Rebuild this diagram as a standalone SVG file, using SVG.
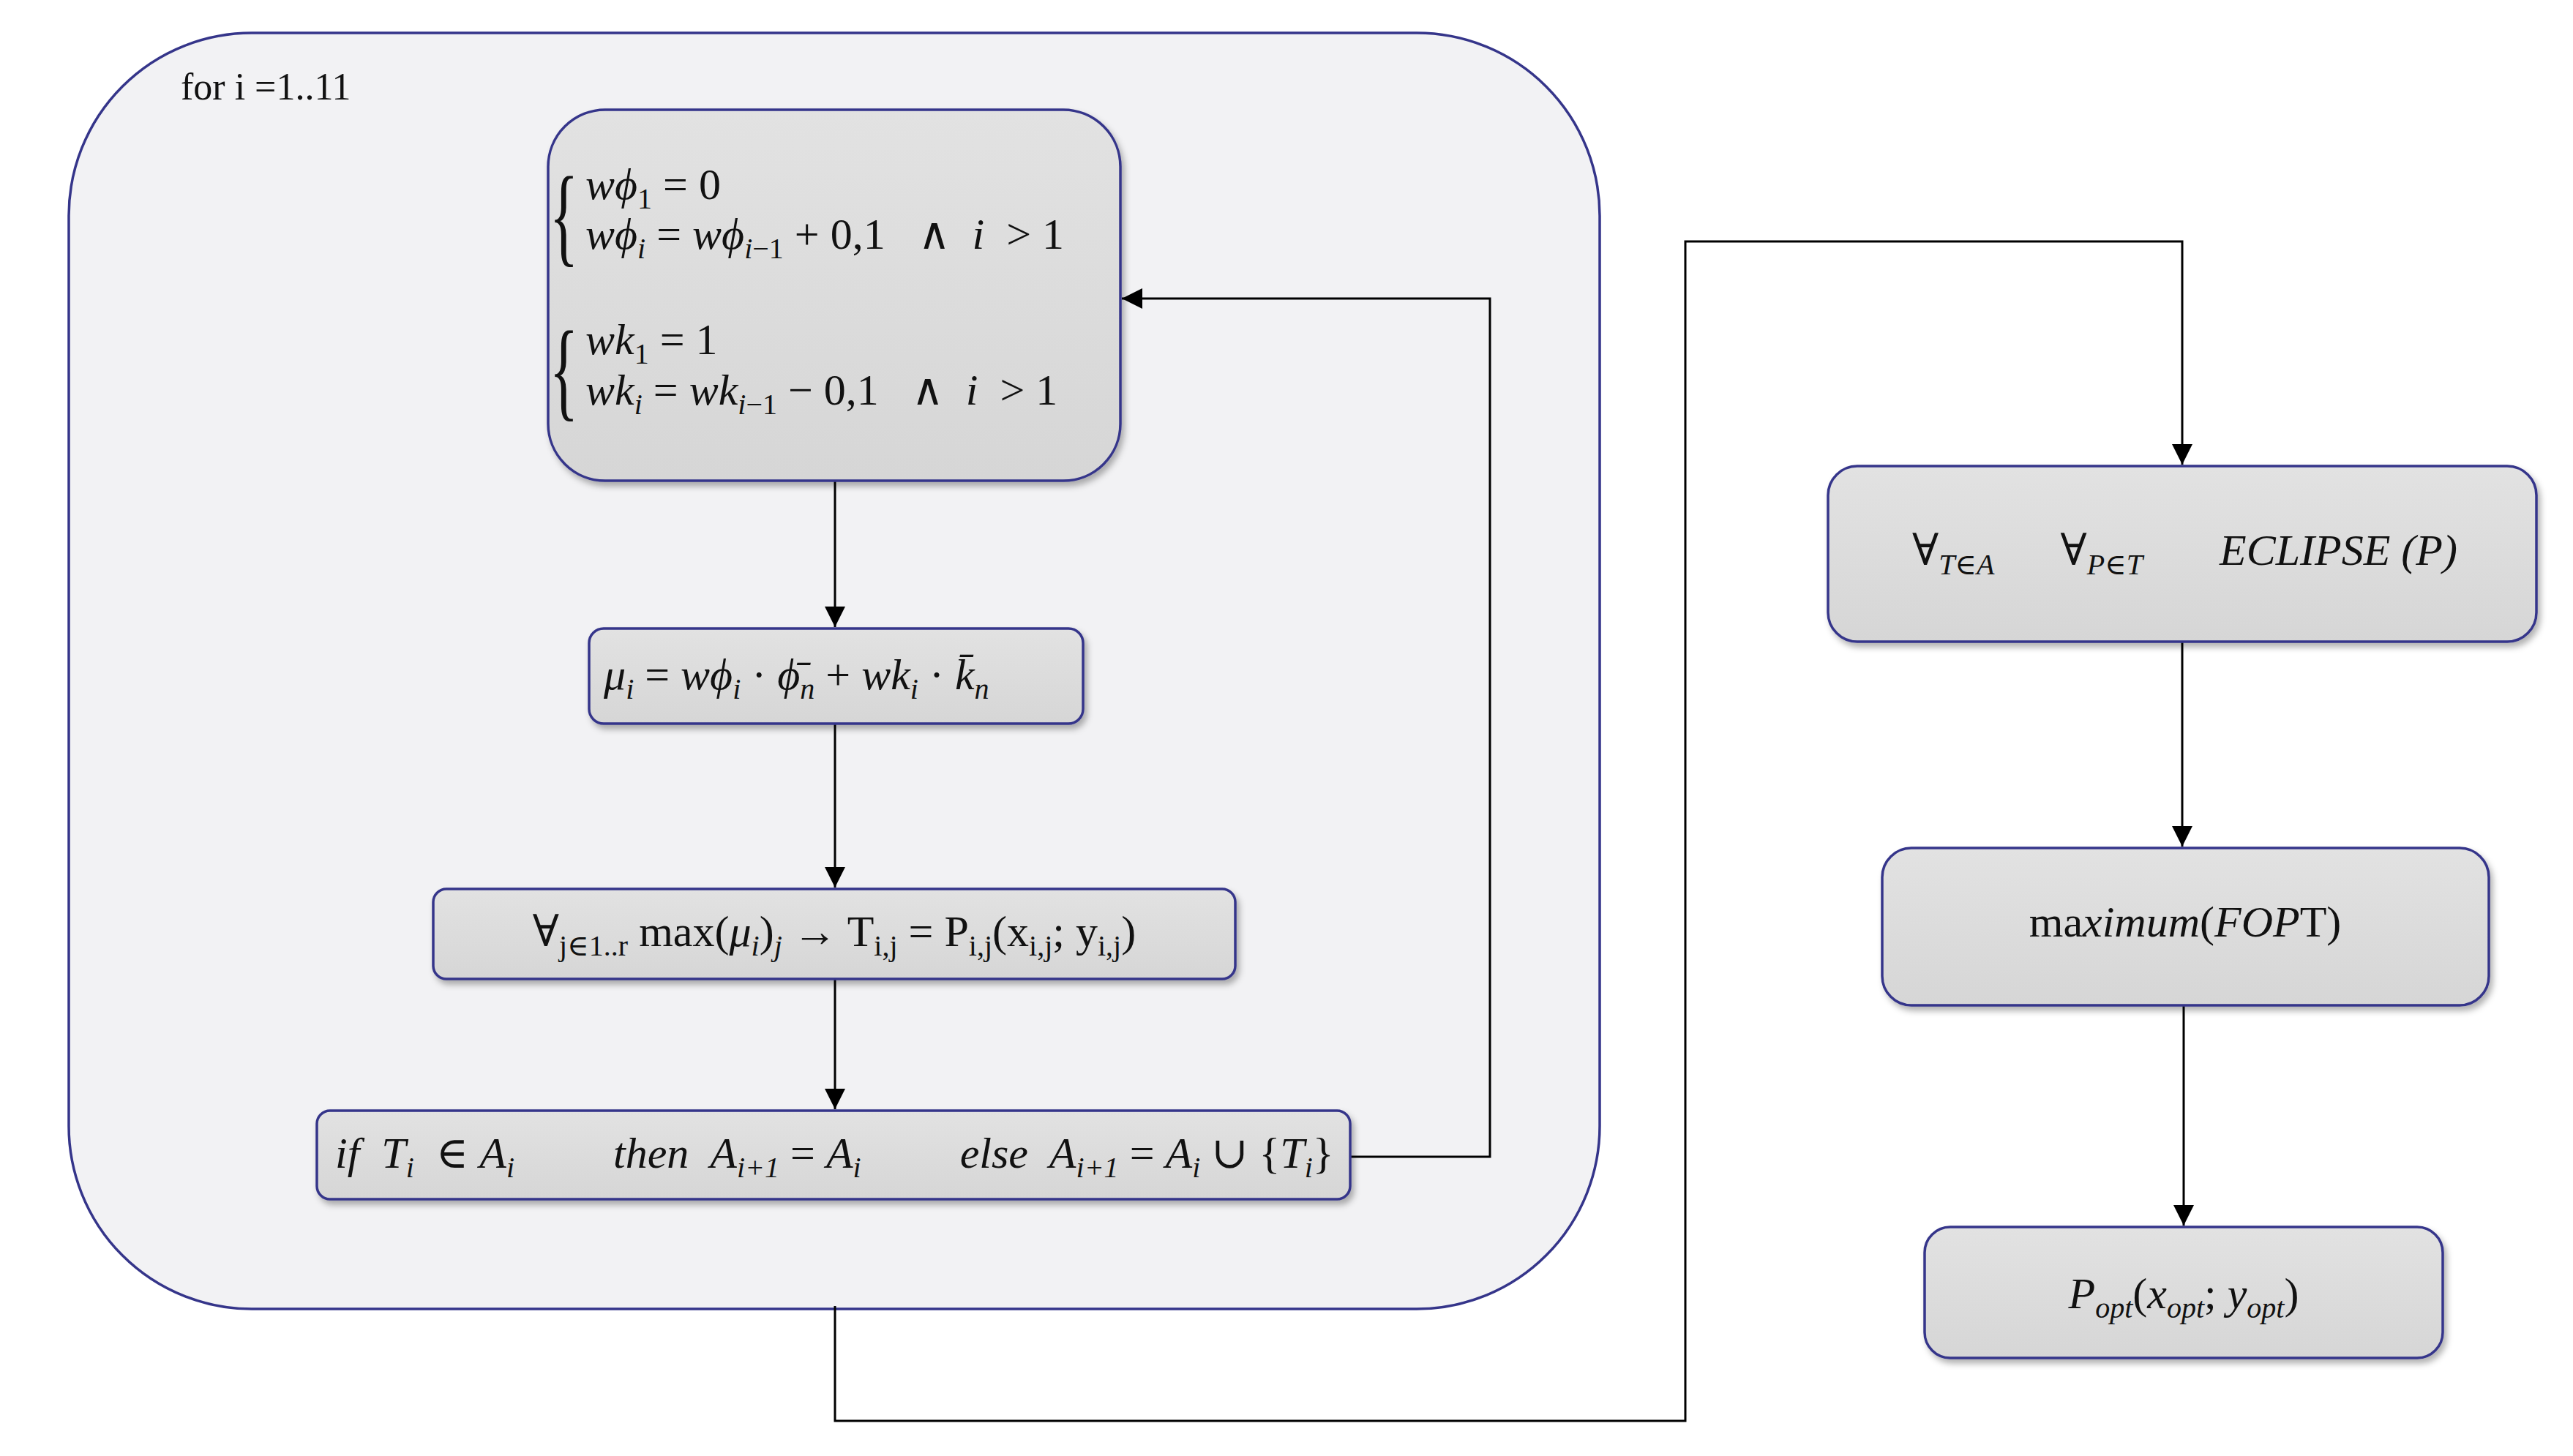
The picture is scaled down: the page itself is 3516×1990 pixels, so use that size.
<svg xmlns="http://www.w3.org/2000/svg" width="3516" height="1990" viewBox="0 0 3516 1990">
<style>
.box{fill:url(#g);stroke:#35358a;stroke-width:3.5;filter:url(#sh)}
.t{font-family:"Liberation Serif","DejaVu Serif",serif;font-size:60px;fill:#111;white-space:pre}
.i{font-style:italic}
.s{font-size:40px}
.c{fill:none;stroke:#000;stroke-width:3}
</style>
<defs>
<linearGradient id="g" x1="0" y1="0" x2="0" y2="1"><stop offset="0" stop-color="#e2e2e2"/><stop offset="1" stop-color="#d6d6d6"/></linearGradient>
<filter id="sh" x="-5%" y="-10%" width="115%" height="130%"><feDropShadow dx="4" dy="6" stdDeviation="4" flood-color="#000" flood-opacity="0.3"/></filter>
<marker id="A" viewBox="0 0 10 10" refX="10" refY="5" markerWidth="28" markerHeight="28" orient="auto" markerUnits="userSpaceOnUse"><path d="M0,0 L10,5 L0,10z" fill="#000"/></marker>
</defs>
<rect width="3516" height="1990" fill="#fff"/>
<g id="loop">
<rect x="94" y="45" width="2092" height="1744" rx="250" fill="#f2f2f4" stroke="#35358a" stroke-width="3.5"/>
<text x="247" y="136" class="t" style="font-size:52px">for i =1..11</text>
</g>
<g id="connectors">
<path class="c" d="M1141,657 V857" marker-end="url(#A)"/>
<path class="c" d="M1141,989 V1213" marker-end="url(#A)"/>
<path class="c" d="M1141,1338 V1516" marker-end="url(#A)"/>
<path class="c" d="M1845,1581 H2036 V408 H1533" marker-end="url(#A)"/>
<path class="c" d="M1141,1785 V1942 H2303 V330 H2982 V635" marker-end="url(#A)"/>
<path class="c" d="M2982,877 V1157" marker-end="url(#A)"/>
<path class="c" d="M2984,1374 V1675" marker-end="url(#A)"/>
</g>
<g id="n1">
<rect class="box" x="749" y="150" width="782" height="507" rx="78"/>
<text x="1365" y="345" class="t" style="font-size:150px" transform="scale(0.55,1)">{</text>
<text x="1365" y="556" class="t" style="font-size:150px" transform="scale(0.55,1)">{</text>
<text x="800" y="272" class="t"><tspan class="i">wϕ</tspan><tspan class="s" dy="13">1</tspan><tspan dy="-13"> = 0</tspan></text>
<text x="800" y="340" class="t"><tspan class="i">wϕ</tspan><tspan class="s i" dy="13">i</tspan><tspan dy="-13"> = </tspan><tspan class="i">wϕ</tspan><tspan class="s" dy="13"><tspan class="i">i</tspan>−1</tspan><tspan dy="-13"> + 0,1   ∧  </tspan><tspan class="i">i</tspan><tspan>  &gt; 1</tspan></text>
<text x="800" y="484" class="t"><tspan class="i">wk</tspan><tspan class="s" dy="13">1</tspan><tspan dy="-13"> = 1</tspan></text>
<text x="800" y="553" class="t"><tspan class="i">wk</tspan><tspan class="s i" dy="13">i</tspan><tspan dy="-13"> = </tspan><tspan class="i">wk</tspan><tspan class="s" dy="13"><tspan class="i">i</tspan>−1</tspan><tspan dy="-13"> − 0,1   ∧  </tspan><tspan class="i">i</tspan><tspan>  &gt; 1</tspan></text>
</g>
<g id="n2">
<rect class="box" x="805" y="859" width="675" height="130" rx="20"/>
<text x="825" y="942" class="t"><tspan class="i">μ</tspan><tspan class="s i" dy="13">i</tspan><tspan dy="-13"> = </tspan><tspan class="i">wϕ</tspan><tspan class="s i" dy="13">i</tspan><tspan dy="-13"> · </tspan><tspan class="i">ϕ̄</tspan><tspan class="s i" dy="13">n</tspan><tspan dy="-13"> + </tspan><tspan class="i">wk</tspan><tspan class="s i" dy="13">i</tspan><tspan dy="-13"> · </tspan><tspan class="i">k̄</tspan><tspan class="s i" dy="13">n</tspan></text>
</g>
<g id="n3">
<rect class="box" x="592" y="1215" width="1096" height="123" rx="18"/>
<text x="1140" y="1293" class="t" text-anchor="middle"><tspan>∀</tspan><tspan class="s" dy="13">j∈1..r</tspan><tspan dy="-13"> max(</tspan><tspan class="i">μ</tspan><tspan class="s i" dy="13">i</tspan><tspan dy="-13">)</tspan><tspan class="s i" dy="13">j</tspan><tspan dy="-13"> → T</tspan><tspan class="s" dy="13">i,j</tspan><tspan dy="-13"> = P</tspan><tspan class="s" dy="13">i,j</tspan><tspan dy="-13">(x</tspan><tspan class="s" dy="13">i,j</tspan><tspan dy="-13">; y</tspan><tspan class="s" dy="13">i,j</tspan><tspan dy="-13">)</tspan></text>
</g>
<g id="n4">
<rect class="box" x="433" y="1518" width="1412" height="121" rx="18"/>
<text x="458" y="1596" class="t"><tspan class="i">if  T</tspan><tspan class="s i" dy="13">i</tspan><tspan dy="-13">  ∈ </tspan><tspan class="i">A</tspan><tspan class="s i" dy="13">i</tspan><tspan dy="-13" class="i">         then  A</tspan><tspan class="s i" dy="13">i+1</tspan><tspan dy="-13"> = </tspan><tspan class="i">A</tspan><tspan class="s i" dy="13">i</tspan><tspan dy="-13" class="i">         else  A</tspan><tspan class="s i" dy="13">i+1</tspan><tspan dy="-13"> = </tspan><tspan class="i">A</tspan><tspan class="s i" dy="13">i</tspan><tspan dy="-13"> ∪ {</tspan><tspan class="i">T</tspan><tspan class="s i" dy="13">i</tspan><tspan dy="-13">}</tspan></text>
</g>
<g id="n5">
<rect class="box" x="2498" y="637" width="968" height="240" rx="40"/>
<text x="2613" y="772" class="t"><tspan>∀</tspan><tspan class="s i" dy="13">T∈A</tspan><tspan dy="-13">      ∀</tspan><tspan class="s i" dy="13">P∈T</tspan><tspan dy="-13" class="i">       ECLIPSE (P)</tspan></text>
</g>
<g id="n6">
<rect class="box" x="2572" y="1159" width="829" height="215" rx="40"/>
<text x="2986" y="1280" class="t" text-anchor="middle">ma<tspan class="i">ximum</tspan>(<tspan class="i">FOP</tspan>T)</text>
</g>
<g id="n7">
<rect class="box" x="2630" y="1677" width="708" height="179" rx="35"/>
<text x="2984" y="1788" class="t" text-anchor="middle"><tspan class="i">P</tspan><tspan class="s i" dy="13">opt</tspan><tspan dy="-13">(</tspan><tspan class="i">x</tspan><tspan class="s i" dy="13">opt</tspan><tspan dy="-13">; </tspan><tspan class="i">y</tspan><tspan class="s i" dy="13">opt</tspan><tspan dy="-13">)</tspan></text>
</g>
</svg>
